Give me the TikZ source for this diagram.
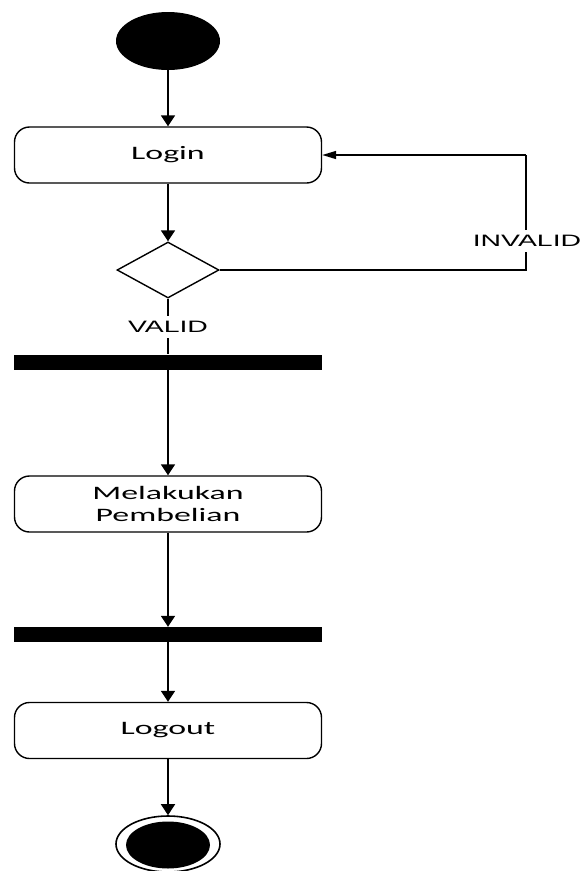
\documentclass[tikz,border=0pt]{standalone}
\usepackage{fontspec}
\usepackage{graphicx}
\usetikzlibrary{shapes.geometric,arrows.meta}
\newfontfamily\boxfont{Carlito}
\newfontfamily\guardfont{Liberation Sans}
% labels are set wide, stretched horizontally
\newcommand\wideA[1]{\scalebox{1.78}[1]{#1}}
\newcommand\wideB[1]{\scalebox{1.72}[1]{#1}}
\tikzset{
  flow/.style={line width=1.8pt, -{Triangle[width=14pt,length=11pt]}},
  flowleft/.style={line width=1.6pt, -{Triangle[width=8pt,length=14pt]}},
  plain/.style={line width=1.6pt},
  action/.style={draw, line width=1.4pt, rectangle, rounded corners=15pt,
    minimum width=307pt, minimum height=56pt, inner sep=0pt, align=center,
    font=\boxfont\fontsize{19}{22.5}\selectfont},
  startnode/.style={ellipse, fill=black, minimum width=104pt, minimum height=58pt, inner sep=0pt},
  choice/.style={diamond, draw, line width=1.4pt, aspect=1.82, minimum width=102pt,
    minimum height=56pt, inner sep=0pt},
  syncbar/.style={rectangle, fill=black, minimum width=308pt, minimum height=15pt, inner sep=0pt},
  guard/.style={fill=white, inner sep=5pt, font=\guardfont\fontsize{16.5}{18}\selectfont}
}
\begin{document}
\begin{tikzpicture}[x=1pt,y=-1pt]
  \useasboundingbox[fill=white] (0,0) rectangle (581,871);

  \node[startnode] (start) at (168,41) {};
  \node[action] (login) at (168,155) {\wideA{Login}};
  \node[choice] (dec) at (168,270) {};
  \node[syncbar] (fork) at (168,362) {};
  \node[action] (beli) at (168,504) {\wideA{Melakukan}\\\wideA{Pembelian}};
  \node[syncbar] (join) at (168,634.5) {};
  \node[action] (logout) at (168,730.5) {\wideA{Logout}};

  % final node: ring with filled centre
  \node[ellipse, draw, line width=1.6pt, minimum width=104pt, minimum height=56pt, inner sep=0pt]
    (final) at (168,844) {};
  \node[ellipse, fill=black, minimum width=84pt, minimum height=47pt, inner sep=0pt]
    (finalcore) at (168,845) {};

  \coordinate (corner1) at (526,270);
  \coordinate (corner2) at (526,155);

  \draw[flow] (start) -- (login);
  \draw[flow] (login) -- (dec);
  \draw[plain] (dec.east) -- (corner1) -- (corner2);
  \draw[flowleft] (corner2) -- (login.east);
  \draw[plain] (dec.south) -- (fork.north -| dec.south);
  \draw[flow] (fork.south -| beli.north) -- (beli.north);
  \draw[flow] (beli.south) -- (join.north -| beli.south);
  \draw[flow] (join.south -| logout.north) -- (logout.north);
  \draw[flow] (logout.south) -- (final.north);

  \node[guard] (invalid) at (527,241) {\wideB{INVALID}};
  \node[guard] (valid) at (168,327) {\wideB{VALID}};
\end{tikzpicture}
\end{document}
